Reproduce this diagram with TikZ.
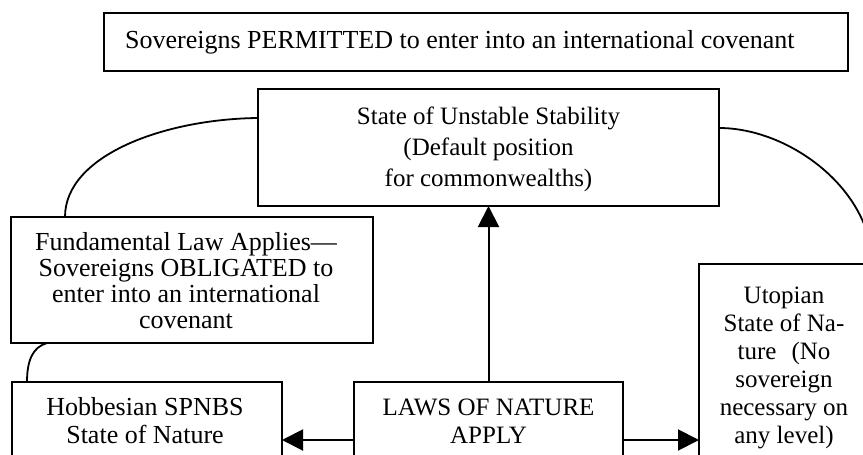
\documentclass[tikz,border=0pt]{standalone}
\usepackage{fontspec}
\setmainfont{Liberation Serif}
\usetikzlibrary{arrows.meta}
\begin{document}
\begin{tikzpicture}[x=1pt,y=-1pt,
  box/.style={draw, line width=2pt, inner sep=0pt, outer sep=0pt, anchor=north west},
  txt/.style={font=\fontsize{25}{30}\selectfont, inner sep=0pt, anchor=base},
  txtb/.style={font=\fontsize{26}{30}\selectfont, inner sep=0pt, anchor=base},
  toptxt/.style={font=\fontsize{26}{30}\selectfont, inner sep=0pt, anchor=base west},
  arr/.style={line width=2pt, -{Triangle[length=21pt,width=21pt]}},
  curve/.style={line width=1.8pt}]
\useasboundingbox (0,0) rectangle (863,455);
\clip (0,0) rectangle (863,455);
% boxes
\node[box, minimum width=744pt, minimum height=58pt] (top) at (104,13) {};
\node[box, minimum width=461pt, minimum height=117pt] (state) at (258,89) {};
\node[box, minimum width=362pt, minimum height=126pt] (fund) at (11,217) {};
\node[box, minimum width=270pt, minimum height=116pt] (hob) at (12,382) {};
\node[box, minimum width=269pt, minimum height=116pt] (laws) at (354,382) {};
\node[box, minimum width=173pt, minimum height=352pt] (uto) at (699,264) {};
% texts
\node[toptxt] (t0) at (125,48) {Sovereigns PERMITTED to enter into an international covenant};
\node[txt] (s1) at (488.5,124) {State of Unstable Stability};
\node[txt] (s2) at (488.5,155) {(Default position};
\node[txt] (s3) at (488.5,186) {for commonwealths)};
\node[txtb] (f1) at (186,250) {Fundamental Law Applies—};
\node[txtb] (f2) at (186,276) {Sovereigns OBLIGATED to};
\node[txtb] (f3) at (186,302) {enter into an international};
\node[txtb] (f4) at (186,328) {covenant};
\node[txtb] (h1) at (145,415) {Hobbesian SPNBS};
\node[txtb] (h2) at (145,443) {State of Nature};
\node[txt] (l1) at (488.5,415) {LAWS OF NATURE};
\node[txt] (l2) at (488.5,443) {APPLY};
\node[txt] (u1) at (784,303) {Utopian};
\node[txt] (u2) at (784,331) {State of Na-};
\node[txt] (u3) at (784,359) {ture\hspace{0.6em}(No};
\node[txt] (u4) at (784,387) {sovereign};
\node[txt] (u5) at (784,415) {necessary on};
\node[txt] (u6) at (784,443) {any level)};
% arrows
\draw[arr] (laws.north) -- (state.south);
\draw[arr] (laws.west) -- (hob.east);
\draw[arr] (laws.east) -- (uto.west);
% curves
\draw[curve] ([yshift=-29pt]state.north west) .. controls (165,119) and (65,155) .. ([xshift=54pt]fund.north west);
\draw[curve] ([xshift=36pt]fund.south west) .. controls (33,347) and (27,360) .. ([xshift=15pt]hob.north west);
\draw[curve] ([yshift=-39pt]state.north east) .. controls (790,128) and (872,190) .. (uto.north east);
\end{tikzpicture}
\end{document}
